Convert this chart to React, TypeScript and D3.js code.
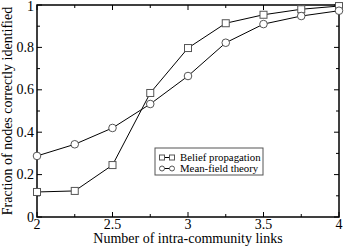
import * as d3 from 'd3';
import { useEffect, useRef } from 'react';

const links = [2, 2.25, 2.5, 2.75, 3, 3.25, 3.5, 3.75, 4];
const beliefProp = [0.118, 0.123, 0.245, 0.585, 0.797, 0.914, 0.954, 0.98, 0.995];
const meanField = [0.288, 0.343, 0.42, 0.533, 0.665, 0.822, 0.91, 0.948, 0.973];
const xTicks = [2, 2.5, 3, 3.5, 4];
const yTicks = [0, 0.2, 0.4, 0.6, 0.8, 1];
const xMinor = [2.25, 2.75, 3.25, 3.75];
const yMinor = [0.1, 0.3, 0.5, 0.7, 0.9];
const seriesNames = ['Belief propagation', 'Mean-field theory'];

function App() {
  const svgRef = useRef(null);

  useEffect(() => {
    const svg = d3.select(svgRef.current);
    svg.selectAll('*').remove();

    const margin = { top: 5, right: 7, bottom: 30, left: 37 };
    const width = 346 - margin.left - margin.right;
    const height = 247 - margin.top - margin.bottom;

    const x = d3.scaleLinear().domain([2, 4]).range([0, width]);
    const y = d3.scaleLinear().domain([0, 1]).range([height, 0]);

    const g = svg.append('g').attr('transform', `translate(${margin.left},${margin.top})`);

    // ticks pointing inward on all four sides
    const tickLine = (x1, y1, x2, y2) =>
      g.append('line').attr('x1', x1).attr('y1', y1).attr('x2', x2).attr('y2', y2)
        .attr('stroke', '#000').attr('stroke-width', 1);

    xTicks.forEach(t => { tickLine(x(t), height, x(t), height - 5); tickLine(x(t), 0, x(t), 5); });
    xMinor.forEach(t => { tickLine(x(t), height, x(t), height - 3); tickLine(x(t), 0, x(t), 3); });
    yTicks.forEach(t => { tickLine(0, y(t), 5, y(t)); tickLine(width, y(t), width - 5, y(t)); });
    yMinor.forEach(t => { tickLine(0, y(t), 3, y(t)); tickLine(width, y(t), width - 3, y(t)); });

    g.append('rect')
      .attr('x', 0).attr('y', 0).attr('width', width).attr('height', height)
      .attr('fill', 'none').attr('stroke', '#000').attr('stroke-width', 1.5);

    g.selectAll('.xl').data(xTicks).enter().append('text')
      .attr('x', d => x(d)).attr('y', height + 12)
      .attr('text-anchor', 'middle').attr('font-size', 14)
      .text(d => d3.format('')(d));

    // top label nudged down a little so it isn't clipped
    g.selectAll('.yl').data(yTicks).enter().append('text')
      .attr('x', -3).attr('y', d => Math.max(y(d) + 4.5, 6))
      .attr('text-anchor', 'end').attr('font-size', 14)
      .text(d => d3.format('')(d));

    svg.append('text')
      .attr('x', margin.left + width / 2).attr('y', 243)
      .attr('text-anchor', 'middle').attr('font-size', 14)
      .text('Number of intra-community links');

    svg.append('text')
      .attr('transform', `translate(12,${margin.top + height / 2}) rotate(-90)`)
      .attr('text-anchor', 'middle').attr('font-size', 14)
      .text('Fraction of nodes correctly identified');

    const line = d3.line().x(d => x(d[0])).y(d => y(d[1]));
    const series = [beliefProp, meanField];

    const drawMarker = (sel, kind, cx, cy, s) => {
      if (kind === 0) {
        sel.append('rect').attr('x', cx - s).attr('y', cy - s).attr('width', 2 * s).attr('height', 2 * s)
          .attr('fill', 'white').attr('stroke', '#555').attr('stroke-width', 1);
      } else {
        sel.append('circle').attr('cx', cx).attr('cy', cy).attr('r', s)
          .attr('fill', 'white').attr('stroke', '#555').attr('stroke-width', 1);
      }
    };

    series.forEach((vals, i) => {
      const pts = links.map((l, j) => [l, vals[j]]);
      g.append('path').datum(pts)
        .attr('fill', 'none').attr('stroke', '#000').attr('stroke-width', 1)
        .attr('d', line);
      pts.forEach(p => drawMarker(g, i, x(p[0]), y(p[1]), i === 0 ? 3.5 : 3.8));
    });

    // legend
    const lg = svg.append('g').attr('transform', 'translate(155,148)');
    lg.append('rect').attr('x', 0).attr('y', 0).attr('width', 108).attr('height', 27)
      .attr('fill', 'white').attr('stroke', '#555').attr('stroke-width', 1);
    seriesNames.forEach((name, i) => {
      const ry = 9.5 + i * 11;
      lg.append('line').attr('x1', 7).attr('x2', 17).attr('y1', ry).attr('y2', ry)
        .attr('stroke', '#000').attr('stroke-width', 1);
      drawMarker(lg, i, 7, ry, 2.5);
      drawMarker(lg, i, 17, ry, 2.5);
      lg.append('text').attr('x', 25).attr('y', ry + 3.5)
        .attr('font-size', 10.8)
        .text(name);
    });
  }, []);

  return (
    <svg ref={svgRef} width={346} height={247}
      style={{ position: 'absolute', left: 0, top: 0, background: 'white', fontFamily: '"Liberation Serif", serif' }} />
  );
}

export default App;
